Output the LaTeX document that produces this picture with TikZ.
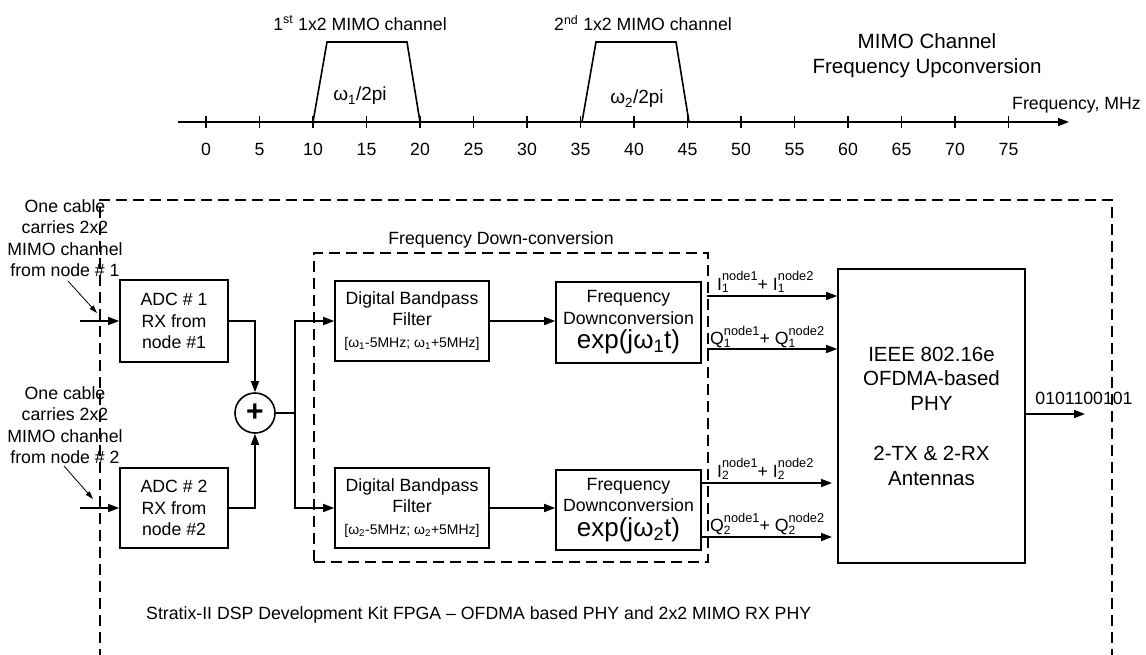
\documentclass[tikz,border=0pt]{standalone}
\usepackage{fontspec}
\setmainfont{Liberation Sans}
\usetikzlibrary{arrows.meta}
\newcommand\SubSup[3]{#1\rlap{\raisebox{-2.5pt}{\fontsize{12}{12}\selectfont #2}}\raisebox{9.5pt}{\fontsize{12.8}{13}\selectfont #3}}
\begin{document}
\begin{tikzpicture}[x=1pt,y=-1pt,
  every node/.style={font=\fontsize{17.7}{21.5}\selectfont, inner sep=0pt},
  wire/.style={line width=1.6pt},
  arr/.style={line width=1.6pt, -{Triangle[length=11pt,width=8pt]}},
  ptr/.style={line width=0.8pt, -{Triangle[length=8pt,width=5pt]}},
  dashbox/.style={line width=1.6pt, dash pattern=on 11pt off 6pt},
  blk/.style={draw, line width=1.6pt, align=center},
  bigfont/.style={font=\fontsize{20.6}{25}\selectfont}
]
\useasboundingbox (0,0) rectangle (1146,654);

% ---------- frequency axis ----------
\coordinate (axL) at (178,122);
\coordinate (axR) at (1069,122);
\draw[arr] (axL) -- (axR);
\foreach \f in {0,5,...,75}{
  \draw[wire] ({206+10.7*\f},116) -- ({206+10.7*\f},128);
  \node (t\f) at ({206+10.7*\f},149) {\f};
}
\draw[wire] (313,122) -- (327,42) -- (407,42) -- (420,122);
\draw[wire] (582,122) -- (596,42) -- (676,42) -- (689,122);
\node[font=\fontsize{19}{21}\selectfont] (w1) at (360,96) {ω\textsubscript{1}/2pi};
\node[font=\fontsize{19}{21}\selectfont] (w2) at (637,99) {ω\textsubscript{2}/2pi};
\node (c1) at (360,23) {1\textsuperscript{st} 1x2 MIMO channel};
\node (c2) at (643,23) {2\textsuperscript{nd} 1x2 MIMO channel};
\node[anchor=west] (fmhz) at (1012,105) {Frequency, MHz};
\node[bigfont, align=center] (up) at (927,56) {MIMO Channel\\Frequency Upconversion};

% ---------- FPGA board ----------
\draw[dashbox] (100,660) -- (100,200) -- (1112,200) -- (1112,660);
\node[anchor=west] (kit) at (146,615) {Stratix-II DSP Development Kit FPGA – OFDMA based PHY and 2x2 MIMO RX PHY};

% sources
\node[align=center] (src1) at (65,238) {One cable\\carries 2x2\\MIMO channel\\from node \# 1};
\node[align=center] (src2) at (65,425) {One cable\\carries 2x2\\MIMO channel\\from node \# 2};
\coordinate (p1a) at (68,281); \coordinate (p1b) at (97,313);
\coordinate (p2a) at (64,466); \coordinate (p2b) at (93,499);
\draw[ptr] (p1a) -- (p1b);
\draw[ptr] (p2a) -- (p2b);

% blocks
\node[blk, minimum width=108pt, minimum height=82pt] (adc1) at (174,321) {ADC \# 1\\RX from\\node \#1};
\node[blk, minimum width=108pt, minimum height=80pt] (adc2) at (174,508) {ADC \# 2\\RX from\\node \#2};
\node[draw, circle, line width=1.6pt, minimum size=40pt, font=\fontsize{30}{30}\selectfont\bfseries] (sum) at (255,413) {+};

\node[draw, dashbox, minimum width=394pt, minimum height=309pt] (fdc) at (511,407.5) {};
\node (fdclab) at (501,240) {Frequency Down-conversion};

\node[blk, minimum width=154pt, minimum height=80pt] (dbf1) at (412,321)
  {Digital Bandpass\\Filter\\{\fontsize{14}{16}\selectfont [ω\textsubscript{1}-5MHz; ω\textsubscript{1}+5MHz]}};
\node[blk, minimum width=154pt, minimum height=80pt] (dbf2) at (412,508)
  {Digital Bandpass\\Filter\\{\fontsize{14}{16}\selectfont [ω\textsubscript{2}-5MHz; ω\textsubscript{2}+5MHz]}};
\node[blk, minimum width=145pt, minimum height=81pt] (fd1) at (628.5,322.5)
  {Frequency\\Downconversion\\[3pt]{\fontsize{26}{28}\selectfont exp(jω\textsubscript{1}t)}};
\node[blk, minimum width=145pt, minimum height=80pt] (fd2) at (628.5,510)
  {Frequency\\Downconversion\\[3pt]{\fontsize{26}{28}\selectfont exp(jω\textsubscript{2}t)}};

\node[blk, font=\fontsize{20.5}{24.8}\selectfont, minimum width=187pt, minimum height=294pt] (phy) at (931.5,416)
  {IEEE 802.16e\\OFDMA-based\\PHY\\[24.8pt]2-TX \& 2-RX\\Antennas};

% connectors
\coordinate (in1) at (80,321);
\coordinate (in2) at (80,508);
\draw[arr] (in1) -- (adc1.west);
\draw[arr] (in2) -- (adc2.west);
\draw[arr] (adc1.east) -| (sum.north);
\draw[arr] (adc2.east) -| (sum.south);
\coordinate (split) at (295,413);
\draw[wire] (sum.east) -- (split);
\draw[arr] (split) |- (dbf1.west);
\draw[arr] (split) |- (dbf2.west);
\draw[arr] (dbf1.east) -- (dbf1.east -| fd1.west);
\draw[arr] (dbf2.east) -- (dbf2.east -| fd2.west);

\coordinate (i1s) at (707,296);
\coordinate (q1s) at (707,349);
\coordinate (i2s) at (701,483);
\coordinate (q2s) at (701,537);
\coordinate (i2e) at (832,483);
\coordinate (q2e) at (832,537);
\draw[arr] (i1s) -- (i1s -| phy.west);
\draw[arr] (q1s) -- (q1s -| phy.west);
\draw[arr] (i2s) -- (i2e);
\draw[arr] (q2s) -- (q2e);
\node[anchor=west] (li1) at (717,282) {\SubSup{I}{1}{node1}+ \SubSup{I}{1}{node2}};
\node[anchor=west] (lq1) at (710,337) {\SubSup{Q}{1}{node1}+ \SubSup{Q}{1}{node2}};
\node[anchor=west] (li2) at (717,469) {\SubSup{I}{2}{node1}+ \SubSup{I}{2}{node2}};
\node[anchor=west] (lq2) at (710,524) {\SubSup{Q}{2}{node1}+ \SubSup{Q}{2}{node2}};

\coordinate (out) at (1085,414);
\draw[arr] (phy.east |- out) -- (out);
\node (bits) at (1084,398) {0101100101};
\end{tikzpicture}
\end{document}
